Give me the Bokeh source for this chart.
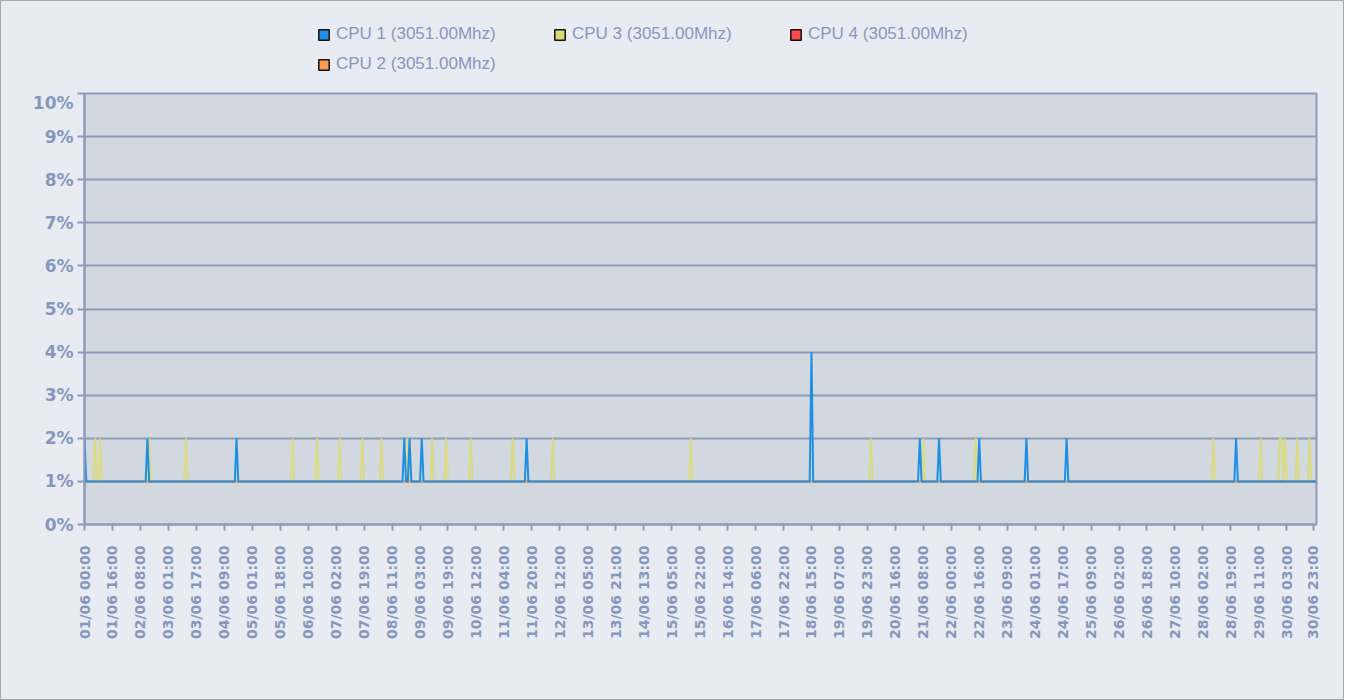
from math import pi
from bokeh.plotting import figure
from bokeh.layouts import column
from bokeh.models import (Range1d, FixedTicker, PrintfTickFormatter, Legend,
                          LegendItem)
from bokeh.embed import file_html
from bokeh.resources import INLINE

# ---------------- data ----------------
N_POINTS = 706  # samples (roughly hourly, 01/06 00:00 .. 30/06 23:00)

tick_labels = [
    "01/06 00:00", "01/06 16:00", "02/06 08:00", "03/06 01:00", "03/06 17:00",
    "04/06 09:00", "05/06 01:00", "05/06 18:00", "06/06 10:00", "07/06 02:00",
    "07/06 19:00", "08/06 11:00", "09/06 03:00", "09/06 19:00", "10/06 12:00",
    "11/06 04:00", "11/06 20:00", "12/06 12:00", "13/06 05:00", "13/06 21:00",
    "14/06 13:00", "15/06 05:00", "15/06 22:00", "16/06 14:00", "17/06 06:00",
    "17/06 22:00", "18/06 15:00", "19/06 07:00", "19/06 23:00", "20/06 16:00",
    "21/06 08:00", "22/06 00:00", "22/06 16:00", "23/06 09:00", "24/06 01:00",
    "24/06 17:00", "25/06 09:00", "26/06 02:00", "26/06 18:00", "27/06 10:00",
    "28/06 02:00", "28/06 19:00", "29/06 11:00", "30/06 03:00", "30/06 23:00",
]
tick_index = [16 * i for i in range(44)] + [703]

cpu1_base = 1
cpu1_peak_idx = [0, 36, 87, 183, 186, 193, 253, 416, 478, 489, 512, 539, 562, 659]
cpu1_peak_val = [2, 2, 2, 2, 2, 2, 2, 4, 2, 2, 2, 2, 2, 2]

cpu3_base = 1
cpu3_peak_idx = [6, 9, 37, 58, 119, 133, 146, 159, 170, 185, 199, 207, 221, 245,
                 268, 347, 450, 480, 510, 646, 673, 684, 685, 687, 694, 701]
cpu3_peak_val = [2] * len(cpu3_peak_idx)

cpu2_base = 1
cpu4_base = 1

series_names = ["CPU 1 (3051.00Mhz)", "CPU 3 (3051.00Mhz)",
                "CPU 4 (3051.00Mhz)", "CPU 2 (3051.00Mhz)"]
series_colors = ["#1E8FE3", "#DCDC74", "#FF4A4A", "#FF9A55"]


def build(base, idx=(), vals=()):
    arr = [base] * N_POINTS
    for i, v in zip(idx, vals):
        arr[i] = v
    return arr


x = list(range(N_POINTS))
cpu1 = build(cpu1_base, cpu1_peak_idx, cpu1_peak_val)
cpu3 = build(cpu3_base, cpu3_peak_idx, cpu3_peak_val)
cpu2 = build(cpu2_base)
cpu4 = build(cpu4_base)

# ---------------- styling ----------------
GRID = "#8E9AB8"
TEXT = "#8797BC"
PLOT_BG = "#D1D8E0"
OUTER_BG = "#E8ECF2"
W = 1342
LEFT, RIGHT = 83, 27

# ---------- legend strip (its own small figure above the chart) ----------
lg = figure(width=W, height=91, x_range=Range1d(0, 1), y_range=Range1d(0, 1),
            output_backend="svg", toolbar_location=None,
            x_axis_type=None, y_axis_type=None,
            min_border_left=LEFT, min_border_right=RIGHT, min_border_top=0,
            min_border_bottom=0)
lg.background_fill_alpha = 0
lg.border_fill_alpha = 0
lg.outline_line_color = None
lg.xgrid.visible = False
lg.ygrid.visible = False

nan = float("nan")
items = []
for name, col in zip(series_names, series_colors):
    r = lg.quad(left=[nan], right=[nan], top=[nan], bottom=[nan],
                fill_color=col, line_color="#111111", line_width=1.5)
    items.append(LegendItem(label=name, renderers=[r]))

legend = Legend(items=items, orientation="horizontal", ncols=3,
                location=(223, 8))
legend.glyph_width = 13
legend.glyph_height = 13
legend.label_standoff = 6
legend.label_width = 207
legend.label_height = 20
legend.spacing = 10
legend.padding = 10
legend.margin = 0
legend.label_text_font = "Liberation Sans"
legend.label_text_font_size = "17px"
legend.label_text_color = TEXT
legend.background_fill_alpha = 0
legend.border_line_alpha = 0
lg.add_layout(legend, "center")

# ---------------- main chart ----------------
p = figure(width=W, height=607,
           x_range=Range1d(0, 705), y_range=Range1d(0, 10),
           output_backend="svg", toolbar_location=None,
           min_border_left=LEFT, min_border_right=RIGHT,
           min_border_top=1, min_border_bottom=175,
           background_fill_color=PLOT_BG)
p.border_fill_alpha = 0
p.outline_line_color = GRID
p.outline_line_width = 2

# lines (bottom to top)
p.line(x, cpu4, line_color=series_colors[2], line_width=2)
p.line(x, cpu3, line_color=series_colors[1], line_width=2, line_alpha=0.85)
p.line(x, cpu2, line_color=series_colors[3], line_width=2)
p.line(x, cpu1, line_color=series_colors[0], line_width=2)

# axes
p.xaxis.ticker = FixedTicker(ticks=tick_index)
p.xaxis.major_label_overrides = {t: l for t, l in zip(tick_index, tick_labels)}
p.xaxis.major_label_orientation = pi / 2
p.yaxis.ticker = FixedTicker(ticks=list(range(11)))
p.yaxis.formatter = PrintfTickFormatter(format="%d%%")
for ax in (p.xaxis, p.yaxis):
    ax.axis_line_color = GRID
    ax.axis_line_width = 2
    ax.major_tick_line_color = GRID
    ax.major_tick_line_width = 2
    ax.major_tick_in = 0
    ax.minor_tick_line_color = None
    ax.major_label_text_color = TEXT
    ax.major_label_text_font = "DejaVu Sans"
    ax.major_label_text_font_style = "bold"
p.xaxis.major_tick_out = 6
p.yaxis.major_tick_out = 7
p.xaxis.major_label_text_font_size = "14px"
p.yaxis.major_label_text_font_size = "17px"
p.xaxis.major_label_standoff = 15
p.yaxis.major_label_standoff = 4

p.xgrid.visible = False
p.ygrid.ticker = FixedTicker(ticks=list(range(11)))
p.ygrid.grid_line_color = GRID
p.ygrid.grid_line_width = 2

layout = column(lg, p, spacing=0,
                styles={"background-color": OUTER_BG,
                        "border": "1px solid #A8A8A8"})
open("out.html", "w").write(file_html(layout, INLINE))
